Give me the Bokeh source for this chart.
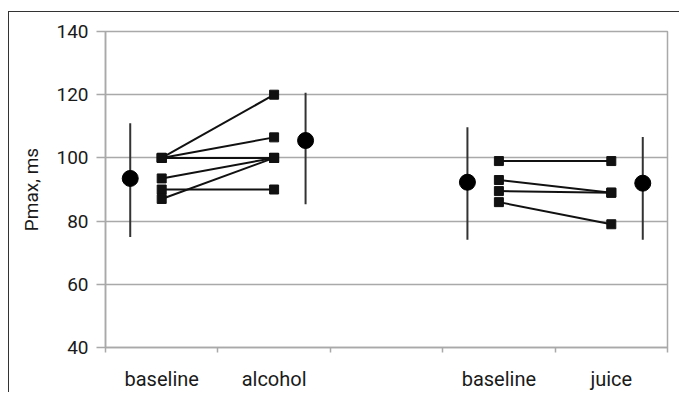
from bokeh.plotting import figure
from bokeh.models import Range1d, FixedTicker
from bokeh.embed import file_html
from bokeh.resources import INLINE

# ---- data ----
categories = ["baseline", "alcohol", "", "baseline", "juice"]
y_ticks = [40, 60, 80, 100, 120, 140]

baseline1 = [100, 100, 100, 93.5, 90, 87]
alcohol = [120, 106.5, 100, 100, 90, 100]
baseline2 = [99, 93, 89.5, 86]
juice = [99, 89, 89, 79]

mean_values = [93.5, 105.5, 92.3, 92.0]
err_low = [75, 85.3, 74.1, 74.1]
err_high = [111, 120.6, 109.7, 106.6]
mean_cat_index = [0, 1, 3, 4]

# ---- styling ----
FONT = "Roboto"
GRID = "#a9a9a9"
TEXT = "#1a1a1a"
MEAN_OFFSET = [-0.28, 0.28, -0.28, 0.28]

centers = [i + 0.5 for i in range(len(categories))]

p = figure(width=671, height=381, output_backend="svg", toolbar_location=None,
           x_range=Range1d(0, len(categories)), y_range=Range1d(40, 140),
           min_border_left=96, min_border_right=13, min_border_top=19, min_border_bottom=40)
p.margin = (11, 0, 0, 8)
p.styles = {"border-top": "1px solid #333333", "border-left": "1px solid #333333"}
p.background_fill_color = "white"
p.border_fill_color = "white"
p.outline_line_color = GRID
p.outline_line_width = 1.5

# grid
p.xgrid.grid_line_color = None
p.ygrid.grid_line_color = GRID
p.ygrid.grid_line_width = 1.5

# y axis
p.yaxis.ticker = FixedTicker(ticks=y_ticks)
p.yaxis.axis_line_color = GRID
p.yaxis.axis_line_width = 1.5
p.yaxis.major_tick_line_color = GRID
p.yaxis.major_tick_line_width = 1.5
p.yaxis.major_tick_out = 9
p.yaxis.major_tick_in = 0
p.yaxis.minor_tick_line_color = None
p.yaxis.major_label_text_font = FONT
p.yaxis.major_label_text_font_size = "19px"
p.yaxis.major_label_text_color = TEXT
p.yaxis.major_label_standoff = 8
p.yaxis.axis_label = "Pmax, ms"
p.yaxis.axis_label_text_font = FONT
p.yaxis.axis_label_text_font_size = "19px"
p.yaxis.axis_label_text_font_style = "normal"
p.yaxis.axis_label_text_color = TEXT
p.yaxis.axis_label_standoff = 10

# x axis: labels at category centres, tick marks at category boundaries
p.xaxis.ticker = FixedTicker(ticks=centers, minor_ticks=list(range(len(categories) + 1)))
p.xaxis.major_label_overrides = {c: lab for c, lab in zip(centers, categories)}
p.xaxis.axis_line_color = GRID
p.xaxis.axis_line_width = 1.5
p.xaxis.major_tick_line_color = None
p.xaxis.major_tick_out = 0
p.xaxis.major_tick_in = 0
p.xaxis.minor_tick_line_color = GRID
p.xaxis.minor_tick_line_width = 1.5
p.xaxis.minor_tick_out = 5
p.xaxis.minor_tick_in = 0
p.xaxis.major_label_text_font = FONT
p.xaxis.major_label_text_font_size = "20px"
p.xaxis.major_label_text_color = TEXT
p.xaxis.major_label_standoff = 14

# paired lines and squares
def pairs(before, after, ib, ia):
    xb = [centers[ib]] * len(before)
    xa = [centers[ia]] * len(after)
    p.segment(x0=xb, y0=before, x1=xa, y1=after, line_color="#111111", line_width=2)
    p.scatter(x=xb, y=before, marker="square", size=9, color="#111111")
    p.scatter(x=xa, y=after, marker="square", size=9, color="#111111")

pairs(baseline1, alcohol, 0, 1)
pairs(baseline2, juice, 3, 4)

# means with error bars
mx = [centers[i] + o for i, o in zip(mean_cat_index, MEAN_OFFSET)]
p.segment(x0=mx, y0=err_low, x1=mx, y1=err_high, line_color="#333333", line_width=2)
p.scatter(x=mx, y=mean_values, marker="circle", size=16, color="#000000")

open("out.html", "w").write(file_html(p, INLINE))
